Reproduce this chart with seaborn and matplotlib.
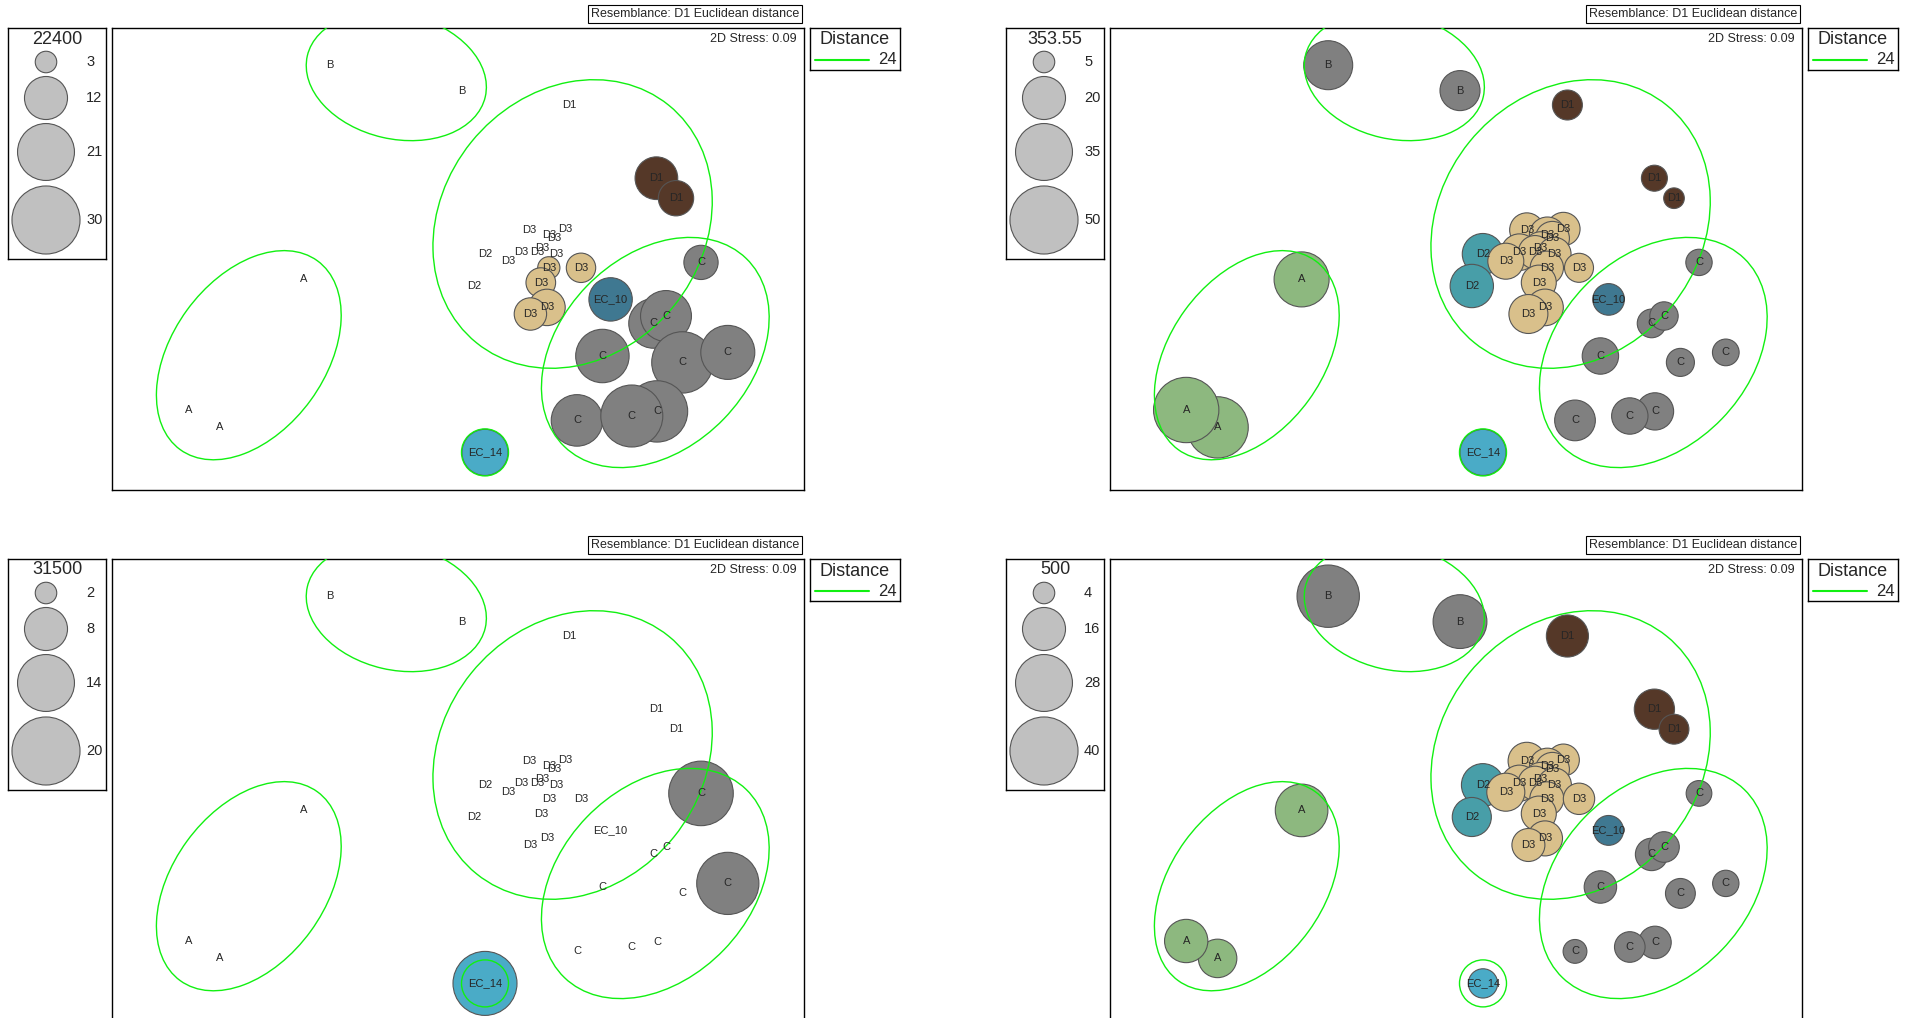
import numpy as np
import pandas as pd
import matplotlib
matplotlib.use("Agg")
import matplotlib.pyplot as plt
import seaborn as sns
from matplotlib.patches import Ellipse

# ---- MDS configuration (same for all four panels) ----
groups = ["A", "A", "A", "B", "B",
          "C", "C", "C", "C", "C", "C", "C", "C", "C",
          "D1", "D1", "D1", "D2", "D2",
          "D3", "D3", "D3", "D3", "D3", "D3", "D3",
          "D3", "D3", "D3", "D3", "D3", "D3", "D3",
          "EC_10", "EC_14"]
mds1 = [-0.772, -1.192, -1.349, -0.639, 0.020,
        1.215, 0.978, 1.040, 0.722, 1.122, 1.349, 0.595, 0.995, 0.869,
        0.557, 0.992, 1.090, 0.134, 0.079,
        0.354, 0.537, 0.457, 0.482, 0.423, 0.317, 0.395,
        0.492, 0.249, 0.454, 0.615, 0.414, 0.445, 0.362,
        0.763, 0.135]
mds2 = [-0.102, -0.842, -0.755, 0.969, 0.842,
        -0.017, -0.322, -0.285, -0.485, -0.517, -0.467, -0.807, -0.762, -0.785,
        0.770, 0.404, 0.304, 0.025, -0.135,
        0.145, 0.150, 0.120, 0.103, 0.053, 0.034, 0.034,
        0.025, -0.011, -0.044, -0.044, -0.118, -0.242, -0.275,
        -0.202, -0.967]

# ---- bubble values per panel ----
vals_22400 = [0, 0, 0, 0, 0,
              7.6, 16, 16.8, 18.5, 24.4, 18.9, 17.2, 24.4, 24.9,
              0, 11.8, 8.1, 0, 0,
              0, 0, 0, 0, 0, 0, 0,
              0, 0, 3.2, 5.6, 5.7, 8.6, 6.8,
              12.2, 13.8]
vals_353 = [32.7, 40.6, 46.1, 25.9, 17.3,
            7.5, 8.9, 8.7, 14.3, 8.5, 7.7, 17.9, 15, 14.3,
            9.7, 7.3, 4.6, 18.2, 20.3,
            12.7, 12, 14, 12.5, 12, 14.5, 12,
            12, 14, 12, 9.1, 13.2, 14.5, 16.4,
            10.8, 22.9]
vals_31500 = [0, 0, 0, 0, 0,
              18, 0, 0, 0, 0, 16.7, 0, 0, 0,
              0, 0, 0, 0, 0,
              0, 0, 0, 0, 0, 0, 0,
              0, 0, 0, 0, 0, 0, 0,
              0, 17.7]
vals_500 = [23.9, 12.8, 16.2, 33.6, 25,
            5.7, 9.1, 8.1, 9.1, 7.7, 6, 4.9, 9.1, 8.1,
            15.3, 14, 7.7, 15.8, 13.2,
            12.1, 8.8, 11, 10, 10, 11.3, 10,
            10, 12.5, 10, 8.5, 10.6, 10.6, 9.4,
            7.7, 7.4]

panel_vals = [vals_22400, vals_353, vals_31500, vals_500]
panel_titles = ["22400", "353.55", "31500", "500"]
legend_steps = [[3, 12, 21, 30], [5, 20, 35, 50], [2, 8, 14, 20], [4, 16, 28, 40]]

# ---- distance 24 cluster outlines ----
contour_x = [-1.046, -0.3085, 0.573, 0.9865, 0.135]
contour_y = [-0.481, 0.9135, 0.175, -0.4675, -0.967]
contour_w = [1.167, 0.913, 1.528, 1.308, 0.235]
contour_h = [0.765, 0.626, 1.303, 0.954, 0.235]
contour_ang = [54, -13, 51, 46, 0]

palette = {"A": "#8db87f", "B": "#808080", "C": "#808080",
           "D1": "#553828", "D2": "#489ea8", "D3": "#d9c08b",
           "EC_10": "#3f7891", "EC_14": "#4aabc7"}
GREEN = "#11f011"
EDGE = "#555555"
S_MAX = 2400  # marker area (pt^2) for the largest legend value

sns.set_style("white")
plt.rcParams['font.family'] = ['Liberation Sans', 'DejaVu Sans']

W, H = 1907, 1018
fig = plt.figure(figsize=(W / 100, H / 100), dpi=100)


def px_axes(x, y, w, h):
    return fig.add_axes([x / W, 1 - (y + h) / H, w / W, h / H])


def frame(ax, lw=1.0):
    ax.set_xticks([])
    ax.set_yticks([])
    ax.set_xlabel("")
    ax.set_ylabel("")
    for sp in ax.spines.values():
        sp.set_visible(True)
        sp.set_color("black")
        sp.set_linewidth(lw)


offsets = [(0, 0), (998, 0), (0, 531), (998, 531)]

for i, (dx, dy) in enumerate(offsets):
    vmax = legend_steps[i][-1]
    df = pd.DataFrame({"group": groups, "mds1": mds1, "mds2": mds2,
                       "value": panel_vals[i]})

    # 1. main MDS plot
    ax = px_axes(112 + dx, 28 + dy, 692, 462)
    sns.scatterplot(data=df[df["value"] > 0], x="mds1", y="mds2",
                    hue="group", palette=palette,
                    size="value", size_norm=(0, 2 * vmax), sizes=(0, 2 * S_MAX),
                    edgecolor=EDGE, linewidth=0.8, legend=False, ax=ax, zorder=2)
    for cx, cy, cw, ch, ca in zip(contour_x, contour_y, contour_w, contour_h, contour_ang):
        ax.add_patch(Ellipse((cx, cy), cw, ch, angle=ca, fill=False,
                             edgecolor=GREEN, lw=1.0, zorder=3))
    for g, x, y in zip(groups, mds1, mds2):
        ax.text(x, y, g, ha="center", va="center", fontsize=8, zorder=4)
    ax.set_xlim(-1.73, 1.73)
    ax.set_ylim(-1.155, 1.155)
    frame(ax)
    ax.annotate("2D Stress: 0.09", xy=(1, 1), xycoords="axes fraction",
                xytext=(-7, -11), textcoords="offset pixels",
                ha="right", va="center", fontsize=9)

    # 2. resemblance label
    fig.text((695 + dx) / W, 1 - (14 + dy) / H, "Resemblance: D1 Euclidean distance",
             ha="center", va="center", fontsize=9,
             bbox=dict(boxstyle="square,pad=0.22", fc="white", ec="black", lw=0.8))

    # 3. bubble size legend
    lax = px_axes(8 + dx, 28 + dy, 98, 231)
    lax.set_xlim(0, 98)
    lax.set_ylim(231, 0)
    ys = [34, 70, 124, 192]
    steps = legend_steps[i]
    lax.scatter([38] * 4, ys, s=[S_MAX * v / vmax for v in steps],
                color="#c0c0c0", edgecolor=EDGE, linewidth=0.8)
    for v, y in zip(steps, ys):
        lax.text(78, y, str(v), ha="left", va="center", fontsize=10.5)
    lax.text(49, 11, panel_titles[i], ha="center", va="center", fontsize=13)
    frame(lax)

    # 4. distance legend
    dax = px_axes(810 + dx, 28 + dy, 90, 42)
    dax.set_xlim(0, 90)
    dax.set_ylim(42, 0)
    dax.text(45, 12, "Distance", ha="center", va="center", fontsize=13)
    dax.plot([5, 59], [32, 32], color=GREEN, lw=1.5)
    dax.text(87, 32, "24", ha="right", va="center", fontsize=12)
    frame(dax)

fig.savefig("out.png", dpi=100)
